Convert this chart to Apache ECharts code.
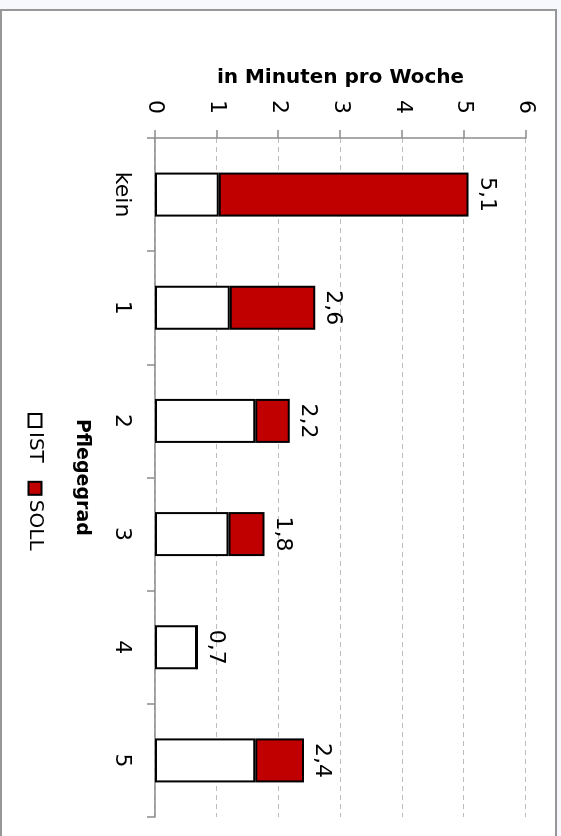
<!DOCTYPE html>
<html>
<head>
<meta charset="utf-8">
<script src="https://cdn.jsdelivr.net/npm/echarts@6/dist/echarts.min.js"></script>
<style>
  html, body { margin: 0; padding: 0; background: #f7f8fd; width: 561px; height: 836px; overflow: hidden; }
  #frame { position: absolute; left: 0; top: 9px; width: 553px; height: 840px; background: #fff; border: 2px solid #979797; }
  #chart { position: absolute; left: 0; top: 0; width: 836px; height: 561px; transform-origin: 0 0; transform: translateX(561px) rotate(90deg); }
</style>
</head>
<body>
<div id="frame"></div>
<div id="chart"></div>
<script>
const categories = ['kein', '1', '2', '3', '4', '5'];
const istValues  = [1.03, 1.21, 1.62, 1.19, 0.68, 1.62];
const sollValues = [4.04, 1.38, 0.56, 0.58, 0, 0.79];
const valueTicks = [0, 1, 2, 3, 4, 5, 6];
const seriesNames = ['IST', 'SOLL'];
const axisTitle = 'in Minuten pro Woche';
const categoryTitle = 'Pflegegrad';

const FONT = 'DejaVu Sans';
const chart = echarts.init(document.getElementById('chart'), null, { renderer: 'canvas' });

function totalLabel(i) {
  return (istValues[i] + sollValues[i]).toFixed(1).replace('.', ',');
}

chart.setOption({
  backgroundColor: 'transparent',
  animation: false,
  textStyle: { fontFamily: FONT, color: '#000' },
  grid: { left: 138, right: 19, top: 35, bottom: 155, containLabel: false },
  legend: {
    data: seriesNames,
    bottom: 20,
    left: 408,
    icon: 'rect',
    itemWidth: 13,
    itemHeight: 13,
    itemGap: 18,
    textStyle: { fontFamily: FONT, fontSize: 20, color: '#000' }
  },
  xAxis: {
    type: 'category',
    data: categories,
    name: categoryTitle,
    nameLocation: 'middle',
    nameGap: 64,
    nameTextStyle: { fontFamily: FONT, fontSize: 19, fontWeight: 'bold', color: '#000' },
    axisLine: { lineStyle: { color: '#8c8c8c', width: 1.5 } },
    axisTick: { show: true, length: 8, lineStyle: { color: '#8c8c8c', width: 1.5 } },
    axisLabel: { fontFamily: FONT, fontSize: 22, color: '#000', margin: 22 }
  },
  yAxis: {
    type: 'value',
    min: valueTicks[0],
    max: valueTicks[valueTicks.length - 1],
    interval: 1,
    name: axisTitle,
    nameLocation: 'middle',
    nameGap: 50,
    nameTextStyle: { fontFamily: FONT, fontSize: 20, fontWeight: 'bold', color: '#000' },
    axisLine: { show: true, lineStyle: { color: '#8c8c8c', width: 1.5 } },
    axisTick: { show: true, length: 8, lineStyle: { color: '#8c8c8c', width: 1.5 } },
    axisLabel: { fontFamily: FONT, fontSize: 22, color: '#000', margin: 24 },
    splitLine: { show: true, lineStyle: { color: '#bdbdbd', width: 1, type: [5, 4] } }
  },
  series: [
    {
      name: seriesNames[0],
      type: 'bar',
      stack: 'total',
      barWidth: 44,
      data: istValues,
      itemStyle: { color: '#ffffff', borderColor: '#000', borderWidth: 2 }
    },
    {
      name: seriesNames[1],
      type: 'bar',
      stack: 'total',
      barWidth: 44,
      data: sollValues,
      itemStyle: { color: '#c00000', borderColor: '#000', borderWidth: 2 },
      label: {
        show: true,
        position: 'top',
        distance: 7,
        fontFamily: FONT,
        fontSize: 22,
        color: '#000',
        formatter: p => totalLabel(p.dataIndex)
      }
    }
  ]
});
</script>
</body>
</html>
